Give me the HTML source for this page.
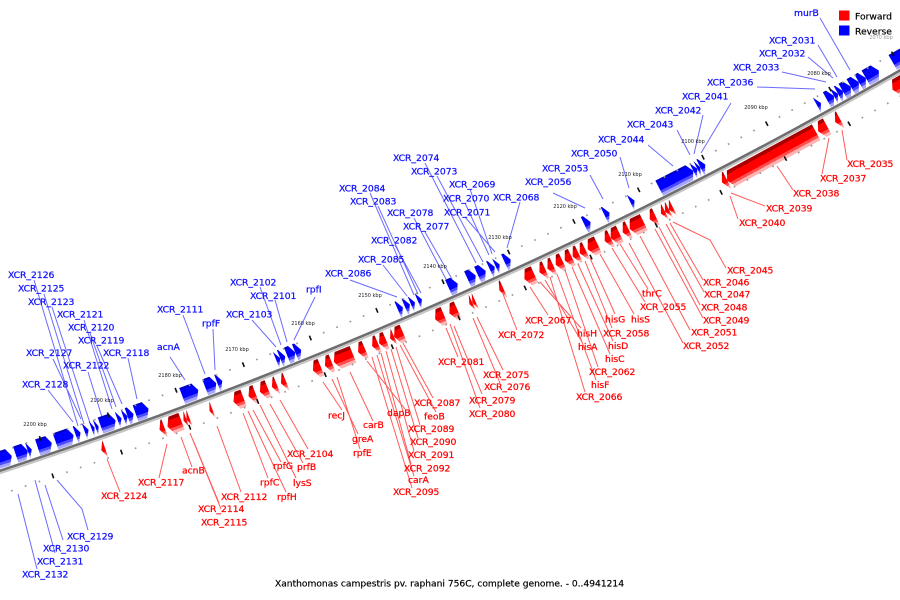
<!DOCTYPE html>
<html><head><meta charset="utf-8"><style>html,body{margin:0;padding:0;background:#fff;width:900px;height:600px;overflow:hidden;}svg{display:block;overflow:hidden}</style></head>
<body>
<svg width="900" height="600" viewBox="0 0 900 600" xmlns="http://www.w3.org/2000/svg" xmlns:xlink="http://www.w3.org/1999/xlink" font-family="'DejaVu Sans','Liberation Sans',sans-serif">
<defs>
<clipPath id="cp"><rect x="0" y="0" width="900" height="600"/></clipPath>
<linearGradient id="gb" x1="0" y1="0" x2="1" y2="0">
<stop offset="0" stop-color="#0000c4"/><stop offset="0.12" stop-color="#0000c4"/>
<stop offset="0.12" stop-color="#0000ff"/><stop offset="0.66" stop-color="#0000ff"/>
<stop offset="0.66" stop-color="#4d4dff"/><stop offset="0.82" stop-color="#4d4dff"/>
<stop offset="0.82" stop-color="#a6a6ff"/><stop offset="1" stop-color="#a6a6ff"/>
</linearGradient>
<linearGradient id="gr" x1="0" y1="0" x2="1" y2="0">
<stop offset="0" stop-color="#a80000"/><stop offset="0.2" stop-color="#a80000"/>
<stop offset="0.2" stop-color="#ff0000"/><stop offset="0.66" stop-color="#ff0000"/>
<stop offset="0.66" stop-color="#ff5050"/><stop offset="0.82" stop-color="#ff5050"/>
<stop offset="0.82" stop-color="#ffb4b4"/><stop offset="1" stop-color="#ffb4b4"/>
</linearGradient>
<g id="tk">
<rect x="4777.5" y="-0.8" width="5" height="1.6" fill="#111"/>
<rect x="4817" y="-0.8" width="5" height="1.6" fill="#111"/>
<g fill="#9a9a9a">
<rect x="4779.2" y="-0.85" width="1.7" height="1.7" transform="rotate(0.17276)"/>
<rect x="4779.2" y="-0.85" width="1.7" height="1.7" transform="rotate(0.34552)"/>
<rect x="4779.2" y="-0.85" width="1.7" height="1.7" transform="rotate(0.51828)"/>
<rect x="4779.2" y="-0.85" width="1.7" height="1.7" transform="rotate(0.69104)"/>
<rect x="4819.7" y="-0.85" width="1.7" height="1.7" transform="rotate(0.17276)"/>
<rect x="4819.7" y="-0.85" width="1.7" height="1.7" transform="rotate(0.34552)"/>
<rect x="4819.7" y="-0.85" width="1.7" height="1.7" transform="rotate(0.51828)"/>
<rect x="4819.7" y="-0.85" width="1.7" height="1.7" transform="rotate(0.69104)"/>
</g>
</g>
</defs>
<rect width="900" height="600" fill="#fff"/>

<!-- leader lines -->
<path fill="none" stroke="#6a6aff" stroke-width="1" d="M820 18L850 70 M818 45L837 77 M808 57L833 78 M782 72L826 82 M757 87L815 89 M731 103L701 153 M703 115L694 154 M677 130L690 155 M648 145L673 166 M620 157L629 188 M590 175L603 199 M553 193L585 208 M520 202L507 248 M470 189L492 254 M465 203L489 255 M465 217L495 252 M437 176L483 262 M425 163L476 263 M414 218L447 281 M425 232L452 279 M370 193L414 295 M378 206L418 294 M395 245L421 293 M383 265L407 296 M350 280L397 297 M315 297L294 340 M260 287L281 345 M275 300L287 342 M252 320L276 347 M183 315L205 374 M213 329L215 370 M170 357L185 380 M128 358L137 399 M97 346L122 404 M90 333L116 407 M84 320L112 409 M88 372L102 417 M53 359L81 419 M48 390L73 422 M52 307L90 423 M44 294L84 424 M34 280L78 426 M88 530L82 509L57 480 M63 540L45 485 M55 553L35 480 M37 569L18 494"/>
<path fill="none" stroke="#ff5a5a" stroke-width="1" d="M847 160L842 130 M822 174L829 138 M793 190L777 166 M765 206L731 193 M738 219L730 196 M726 268L710 240L673 222 M703 280L670 223 M704 292L666 224 M700 305L659 227 M703 318L655 229 M690 330L640 236 M683 343L629 243 M648 289L620 244 M645 302L612 248 M634 314L600 254 M615 314L590 258 M612 328L585 261 M613 341L578 264 M610 354L572 267 M598 367L565 270 M596 380L557 274 M585 392L550 277 M582 342L545 280 M581 328L540 282 M548 315L530 287 M517 330L503 294 M503 370L477 317 M500 383L473 318 M482 394L454 326 M480 408L450 324 M458 357L446 328 M433 398L403 343 M436 412L400 345 M420 425L396 347 M418 438L391 349 M414 451L386 351 M411 464L381 353 M414 476L377 355 M412 488L372 357 M405 409L367 361 M373 421L350 372 M358 434L332 379 M360 449L337 377 M342 410L323 382 M308 449L280 400 M303 463L270 404 M281 462L253 410 M296 478L260 405 M268 478L243 413 M286 492L248 411 M241 492L217 426 M219 503L193 440 M221 509L190 433 M192 467L181 437 M159 478L167 444 M120 492L107 459"/>

<g clip-path="url(#cp)">
<g transform="translate(-1490 -4090)">
<path d="M2472.4 4114.8 A4800.4 4800.4 0 0 1 1403.5 4590.6" fill="none" stroke="#c4c4c4" stroke-width="1.8"/>
<path d="M2471.2 4112.7 A4798 4798 0 0 1 1402.8 4588.3" fill="none" stroke="#6e6e6e" stroke-width="2.6"/>

<g transform="rotate(60.124) translate(4798 0) scale(1 1.15327)">
<g transform="matrix(1.214 0 0 1 1.643 0)" fill="url(#gb)">
<polygon points="-10,-15 -17,-11 -17,2 -3,2 -3,-11"/>
<polygon points="-10,16 -17,20 -17,29 -3,29 -3,20"/>
<polygon points="-10,29 -17,33 -17,36 -3,36 -3,33"/>
<polygon points="-10,36 -17,40 -17,44 -3,44 -3,40"/>
<polygon points="-10,44 -17,48 -17,52 -3,52 -3,48"/>
</g>
<g transform="matrix(1.125 0 0 1 -1.625 0)" fill="url(#gr)">
<polygon points="5,-10 21,-10 21,10 13,14 5,10"/>
</g>
</g>
<g transform="rotate(61.493) translate(4798 0) scale(1 1.13798)">
<g transform="matrix(1.214 0 0 1 1.643 0)" fill="url(#gb)">
<polygon points="-10,-48 -17,-44 -17,-43 -3,-43 -3,-44"/>
<polygon points="-10,-43 -17,-39 -3,-39"/>
<polygon points="-10,-39 -17,-35 -17,-32 -3,-32 -3,-35"/>
<polygon points="-10,-26 -17,-22 -3,-22"/>
</g>
<g transform="matrix(1.125 0 0 1 -1.625 0)" fill="url(#gr)">
<polygon points="5,-34 21,-34 21,-33 13,-29 5,-33"/>
<polygon points="5,-21 21,-21 21,-16 13,-12 5,-16"/>
<polygon points="5,-10 21,-10 21,75 13,79 5,75"/>
</g>
</g>
<g transform="rotate(62.842) translate(4798 0) scale(1 1.12389)">
<g transform="matrix(1.214 0 0 1 1.643 0)" fill="url(#gb)">
<polygon points="-10,-10 -17,-6 -17,-5 -3,-5 -3,-6"/>
<polygon points="-10,-5 -17,-2 -3,-2"/>
<polygon points="-10,-2 -17,2 -3,2"/>
<polygon points="-10,2 -17,6 -17,36 -3,36 -3,6"/>
</g>
<g transform="matrix(1.125 0 0 1 -1.625 0)" fill="url(#gr)">
<polygon points="5,-21 21,-21 21,-20 13,-16 5,-20"/>
<polygon points="5,33 21,33 13,37"/>
<polygon points="5,37 21,37 13,41"/>
<polygon points="5,41 21,41 13,45"/>
</g>
</g>
<g transform="rotate(64.176) translate(4798 0) scale(1 1.11094)">
<g transform="matrix(1.214 0 0 1 1.643 0)" fill="url(#gb)">
<polygon points="-10,-39 -17,-35 -3,-35"/>
<polygon points="-10,-14 -17,-10 -17,-9 -3,-9 -3,-10"/>
<polygon points="-10,5 -17,9 -17,11 -3,11 -3,9"/>
</g>
<g transform="matrix(1.125 0 0 1 -1.625 0)" fill="url(#gr)">
<polygon points="5,-50 21,-50 21,-48 13,-44 5,-48"/>
<polygon points="5,-38 21,-38 21,-28 13,-24 5,-28"/>
<polygon points="5,-23 21,-23 21,-21 13,-17 5,-21"/>
<polygon points="5,-14 21,-14 21,-9 13,-5 5,-9"/>
<polygon points="5,-5 21,-5 21,-3 13,1 5,-3"/>
<polygon points="5,8 21,8 21,14 13,18 5,14"/>
<polygon points="5,20 21,20 21,22 13,26 5,22"/>
<polygon points="5,27 21,27 21,29 13,33 5,29"/>
<polygon points="5,34 21,34 21,37 13,41 5,37"/>
<polygon points="5,43 21,43 21,46 13,50 5,46"/>
</g>
</g>
<g transform="rotate(65.496) translate(4798 0) scale(1 1.09898)">
<g transform="matrix(1.214 0 0 1 1.643 0)" fill="url(#gb)">
<polygon points="-10,-15 -17,-11 -17,-9 -3,-9 -3,-11"/>
<polygon points="-10,-4 -17,0 -3,0"/>
<polygon points="-10,1 -17,5 -17,6 -3,6 -3,5"/>
<polygon points="-10,10 -17,14 -17,18 -3,18 -3,14"/>
<polygon points="-10,20 -17,24 -17,28 -3,28 -3,24"/>
<polygon points="-10,38 -17,42 -17,47 -3,47 -3,42"/>
</g>
<g transform="matrix(1.125 0 0 1 -1.625 0)" fill="url(#gr)">
<polygon points="5,-48 21,-48 21,-46 13,-42 5,-46"/>
<polygon points="5,-40 21,-40 21,-38 13,-34 5,-38"/>
<polygon points="5,-29 21,-29 21,-23 13,-19 5,-23"/>
<polygon points="5,2 21,2 21,3 13,6 5,3"/>
<polygon points="5,30 21,30 13,33"/>
<polygon points="5,33 21,33 13,36"/>
<polygon points="5,48 21,48 21,52 13,56 5,52"/>
</g>
</g>
<g transform="rotate(66.802) translate(4798 0) scale(1 1.08797)">
<g transform="matrix(1.214 0 0 1 1.643 0)" fill="url(#gb)">
<polygon points="-10,-26 -17,-22 -3,-22"/>
<polygon points="-10,-19 -17,-15 -3,-15"/>
<polygon points="-10,-14 -17,-10 -17,-9 -3,-9 -3,-10"/>
<polygon points="-10,-7 -17,-3 -17,-2 -3,-2 -3,-3"/>
</g>
<g transform="matrix(1.125 0 0 1 -1.625 0)" fill="url(#gr)">
<polygon points="5,-39 21,-39 21,-34 13,-30 5,-34"/>
<polygon points="5,2 21,2 21,7 13,11 5,7"/>
<polygon points="5,11 21,11 13,15"/>
<polygon points="5,19 21,19 21,22 13,26 5,22"/>
<polygon points="5,27 21,27 21,29 13,33 5,29"/>
<polygon points="5,40 21,40 21,43 13,47 5,43"/>
</g>
</g>
<g transform="rotate(68.094) translate(4798 0) scale(1 1.07782)">
<g transform="matrix(1.214 0 0 1 1.643 0)" fill="url(#gb)">
<polygon points="-10,-5 -17,-1 -17,1 -3,1 -3,-1"/>
<polygon points="-10,1 -17,5 -17,9 -3,9 -3,5"/>
<polygon points="-10,11 -17,15 -17,16 -3,16 -3,15"/>
<polygon points="-10,16 -17,20 -3,20"/>
</g>
<g transform="matrix(1.125 0 0 1 -1.625 0)" fill="url(#gr)">
<polygon points="5,-48 21,-48 21,-33 13,-29 5,-33"/>
<polygon points="5,-27 21,-27 21,-24 13,-20 5,-24"/>
<polygon points="5,-16 21,-16 21,-12 13,-8 5,-12"/>
<polygon points="5,19 21,19 21,20 13,24 5,20"/>
<polygon points="5,28 21,28 21,29 13,33 5,29"/>
<polygon points="5,37 21,37 21,41 13,45 5,41"/>
</g>
</g>
<g transform="rotate(69.377) translate(4798 0) scale(1 1.06848)">
<g transform="matrix(1.214 0 0 1 1.643 0)" fill="url(#gb)">
<polygon points="-10,-26 -17,-22 -17,-21 -3,-21 -3,-22"/>
<polygon points="-10,-20 -17,-16 -17,-9 -3,-9 -3,-16"/>
<polygon points="-10,-2 -17,2 -17,14 -3,14 -3,2"/>
</g>
<g transform="matrix(1.125 0 0 1 -1.625 0)" fill="url(#gr)">
<polygon points="5,-51 21,-51 21,-48 13,-44 5,-48"/>
<polygon points="5,-39 21,-39 21,-33 13,-29 5,-33"/>
<polygon points="5,-8 21,-8 13,-5"/>
<polygon points="5,15 21,15 13,18"/>
<polygon points="5,18 21,18 13,21"/>
<polygon points="5,23 21,23 21,33 13,37 5,33"/>
<polygon points="5,40 21,40 21,41 13,45 5,41"/>
</g>
</g>
<g transform="rotate(70.647) translate(4798 0) scale(1 1.05989)">
<g transform="matrix(1.214 0 0 1 1.643 0)" fill="url(#gb)">
<polygon points="-10,-52 -17,-48 -17,-39 -3,-39 -3,-48"/>
<polygon points="-10,-37 -17,-33 -17,-31 -3,-31 -3,-33"/>
<polygon points="-10,-31 -17,-27 -3,-27"/>
<polygon points="-10,-25 -17,-21 -3,-21"/>
<polygon points="-10,-19 -17,-15 -17,-4 -3,-4 -3,-15"/>
<polygon points="-10,-2 -17,1 -3,1"/>
<polygon points="-10,2 -17,5 -3,5"/>
<polygon points="-10,8 -17,12 -3,12"/>
<polygon points="-10,16 -17,20 -17,21 -3,21 -3,20"/>
<polygon points="-10,23 -17,27 -17,41 -3,41 -3,27"/>
</g>
<g transform="matrix(1.125 0 0 1 -1.625 0)" fill="url(#gr)">
<polygon points="5,-1 21,-1 13,3"/>
</g>
</g>
<g transform="rotate(71.908) translate(4798 0) scale(1 1.05202)">
<g transform="matrix(1.214 0 0 1 1.643 0)" fill="url(#gb)">
<polygon points="-10,-55 -17,-51 -17,-41 -3,-41 -3,-51"/>
<polygon points="-10,-35 -17,-31 -3,-31"/>
<polygon points="-10,-31 -17,-27 -17,-19 -3,-19 -3,-27"/>
<polygon points="-10,-15 -17,-11 -17,25 -3,25 -3,-11"/>
</g>
</g>

<use href="#tk" xlink:href="#tk" transform="rotate(59.2362)"/>
<use href="#tk" xlink:href="#tk" transform="rotate(60.1)"/>
<use href="#tk" xlink:href="#tk" transform="rotate(60.9638)"/>
<use href="#tk" xlink:href="#tk" transform="rotate(61.8276)"/>
<use href="#tk" xlink:href="#tk" transform="rotate(62.6914)"/>
<use href="#tk" xlink:href="#tk" transform="rotate(63.5552)"/>
<use href="#tk" xlink:href="#tk" transform="rotate(64.419)"/>
<use href="#tk" xlink:href="#tk" transform="rotate(65.2828)"/>
<use href="#tk" xlink:href="#tk" transform="rotate(66.1466)"/>
<use href="#tk" xlink:href="#tk" transform="rotate(67.0104)"/>
<use href="#tk" xlink:href="#tk" transform="rotate(67.8742)"/>
<use href="#tk" xlink:href="#tk" transform="rotate(68.738)"/>
<use href="#tk" xlink:href="#tk" transform="rotate(69.6018)"/>
<use href="#tk" xlink:href="#tk" transform="rotate(70.4656)"/>
<use href="#tk" xlink:href="#tk" transform="rotate(71.3294)"/>
<use href="#tk" xlink:href="#tk" transform="rotate(72.1932)"/>
</g>
</g>

<!-- scale labels -->
<g font-size="10" fill="#222" text-anchor="middle">
<text transform="translate(881 38.8) scale(0.5)" fill="#999">2070 kbp</text>
<text transform="translate(819 74.8) scale(0.5)">2080 kbp</text>
<text transform="translate(756 108.8) scale(0.5)">2090 kbp</text>
<text transform="translate(693 142.8) scale(0.5)">2100 kbp</text>
<text transform="translate(630 175.8) scale(0.5)">2110 kbp</text>
<text transform="translate(565 207.8) scale(0.5)">2120 kbp</text>
<text transform="translate(500 238.8) scale(0.5)">2130 kbp</text>
<text transform="translate(435 267.8) scale(0.5)">2140 kbp</text>
<text transform="translate(370 296.8) scale(0.5)">2150 kbp</text>
<text transform="translate(303 324.8) scale(0.5)">2160 kbp</text>
<text transform="translate(237 350.8) scale(0.5)">2170 kbp</text>
<text transform="translate(170 376.8) scale(0.5)">2180 kbp</text>
<text transform="translate(102 401.8) scale(0.5)">2190 kbp</text>
<text transform="translate(35 425.8) scale(0.5)">2200 kbp</text>
</g>

<!-- blue labels -->
<g font-size="9.2" fill="#1010ff" stroke="#1010ff" stroke-width="0.25">
<text x="794" y="16">murB</text>
<text x="769" y="43.5">XCR_2031</text>
<text x="759" y="56.5">XCR_2032</text>
<text x="733" y="70.5">XCR_2033</text>
<text x="707" y="85.5">XCR_2036</text>
<text x="682" y="99.5">XCR_2041</text>
<text x="655" y="113.5">XCR_2042</text>
<text x="627" y="127.5">XCR_2043</text>
<text x="598" y="142.5">XCR_2044</text>
<text x="571" y="156.5">XCR_2050</text>
<text x="542" y="171.5">XCR_2053</text>
<text x="525" y="185">XCR_2056</text>
<text x="493" y="200.5">XCR_2068</text>
<text x="449" y="187.5">XCR_2069</text>
<text x="443" y="201.5">XCR_2070</text>
<text x="444" y="215.5">XCR_2071</text>
<text x="411" y="174.5">XCR_2073</text>
<text x="393" y="161">XCR_2074</text>
<text x="387" y="216">XCR_2078</text>
<text x="403" y="229.5">XCR_2077</text>
<text x="339" y="191.5">XCR_2084</text>
<text x="350" y="204.5">XCR_2083</text>
<text x="371" y="243.5">XCR_2082</text>
<text x="358" y="262.5">XCR_2085</text>
<text x="325" y="276.5">XCR_2086</text>
<text x="306" y="292.5">rpfI</text>
<text x="230" y="285.5">XCR_2102</text>
<text x="250" y="299">XCR_2101</text>
<text x="226" y="317.5">XCR_2103</text>
<text x="157" y="312.5">XCR_2111</text>
<text x="202" y="326.5">rpfF</text>
<text x="157" y="350">acnA</text>
<text x="8" y="278">XCR_2126</text>
<text x="18" y="291.5">XCR_2125</text>
<text x="28" y="305">XCR_2123</text>
<text x="57" y="317.5">XCR_2121</text>
<text x="68" y="330.5">XCR_2120</text>
<text x="78" y="343.5">XCR_2119</text>
<text x="26" y="356">XCR_2127</text>
<text x="103" y="356">XCR_2118</text>
<text x="63" y="368.5">XCR_2122</text>
<text x="22" y="387.5">XCR_2128</text>
<text x="67" y="539.5">XCR_2129</text>
<text x="43" y="551.5">XCR_2130</text>
<text x="37" y="564.5">XCR_2131</text>
<text x="22" y="577.5">XCR_2132</text>
</g>

<!-- red labels -->
<g font-size="9.2" fill="#ff0000" stroke="#ff0000" stroke-width="0.25">
<text x="847" y="167">XCR_2035</text>
<text x="820" y="181.5">XCR_2037</text>
<text x="793" y="196.5">XCR_2038</text>
<text x="766" y="211.5">XCR_2039</text>
<text x="739" y="226">XCR_2040</text>
<text x="727" y="273.5">XCR_2045</text>
<text x="703" y="285.5">XCR_2046</text>
<text x="704" y="297.5">XCR_2047</text>
<text x="701" y="310.5">XCR_2048</text>
<text x="703" y="323.5">XCR_2049</text>
<text x="691" y="335.5">XCR_2051</text>
<text x="683" y="349">XCR_2052</text>
<text x="642" y="296.5">thrC</text>
<text x="640" y="310">XCR_2055</text>
<text x="605" y="322.5">hisG</text>
<text x="631" y="322.5">hisS</text>
<text x="603" y="336.5">XCR_2058</text>
<text x="608" y="349">hisD</text>
<text x="605" y="362">hisC</text>
<text x="589" y="375">XCR_2062</text>
<text x="525" y="323.5">XCR_2067</text>
<text x="577" y="336.5">hisH</text>
<text x="578" y="350">hisA</text>
<text x="591" y="388">hisF</text>
<text x="576" y="400">XCR_2066</text>
<text x="498" y="338">XCR_2072</text>
<text x="438" y="365">XCR_2081</text>
<text x="483" y="378">XCR_2075</text>
<text x="484" y="390">XCR_2076</text>
<text x="469" y="403.5">XCR_2079</text>
<text x="469" y="417">XCR_2080</text>
<text x="414" y="406">XCR_2087</text>
<text x="424" y="419.5">feoB</text>
<text x="408" y="432">XCR_2089</text>
<text x="410" y="445">XCR_2090</text>
<text x="408" y="458">XCR_2091</text>
<text x="404" y="471.5">XCR_2092</text>
<text x="408" y="483">carA</text>
<text x="393" y="495">XCR_2095</text>
<text x="387" y="416">dapB</text>
<text x="363" y="428">carB</text>
<text x="328" y="418.5">recJ</text>
<text x="352" y="442">greA</text>
<text x="353" y="456">rpfE</text>
<text x="287" y="457">XCR_2104</text>
<text x="297" y="470">prfB</text>
<text x="273" y="469">rpfG</text>
<text x="293" y="486">lysS</text>
<text x="260" y="485.5">rpfC</text>
<text x="277" y="500">rpfH</text>
<text x="221" y="500">XCR_2112</text>
<text x="198" y="512">XCR_2114</text>
<text x="201" y="525.5">XCR_2115</text>
<text x="182" y="473.5">acnB</text>
<text x="138" y="485.5">XCR_2117</text>
<text x="101" y="499">XCR_2124</text>
</g>

<!-- legend -->
<rect x="839" y="10.5" width="10.5" height="10" fill="#ff0000"/>
<rect x="839" y="25.5" width="10.5" height="10" fill="#0000ff"/>
<g font-size="9.2" fill="#000" stroke="#000" stroke-width="0.2">
<text x="855" y="19.5">Forward</text>
<text x="855" y="34.5">Reverse</text>
<text x="275" y="586.7" textLength="349" lengthAdjust="spacingAndGlyphs">Xanthomonas campestris pv. raphani 756C, complete genome. - 0..4941214</text>
</g>
</svg>
</body></html>
